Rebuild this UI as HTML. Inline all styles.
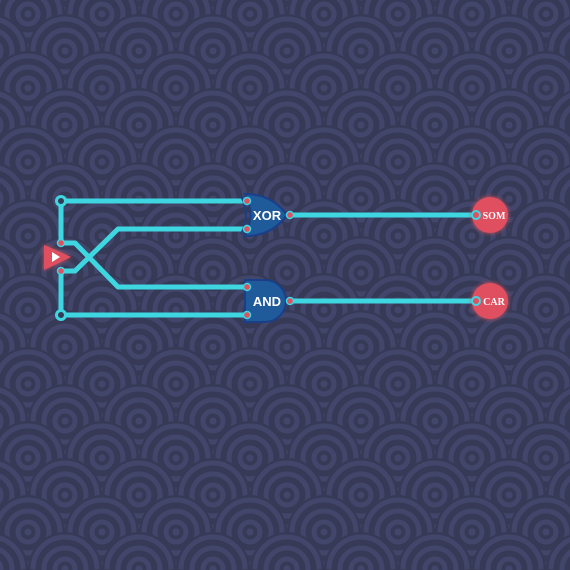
<!DOCTYPE html>
<html><head><meta charset="utf-8"><style>
html,body{margin:0;padding:0;background:#353a55;}
svg{display:block}
</style></head><body>
<svg width="570" height="570" viewBox="0 0 570 570">
<defs>
<g id="sc">
<circle r="37" fill="#363a56"/>
<circle r="3.5" fill="#41466a"/>
<g fill="none" stroke="#41466a" stroke-width="5">
<circle r="10"/><circle r="21"/><circle r="32"/>
</g>
</g>
<pattern id="waves" width="74" height="74" patternUnits="userSpaceOnUse">
<rect width="74" height="74" fill="#363a56"/>
<use href="#sc" x="-9" y="-23"/><use href="#sc" x="65" y="-23"/><use href="#sc" x="139" y="-23"/>
<use href="#sc" x="-46" y="14"/><use href="#sc" x="28" y="14"/><use href="#sc" x="102" y="14"/>
<use href="#sc" x="-9" y="51"/><use href="#sc" x="65" y="51"/><use href="#sc" x="139" y="51"/>
<use href="#sc" x="-46" y="88"/><use href="#sc" x="28" y="88"/><use href="#sc" x="102" y="88"/>
</pattern>
<filter id="glow" x="-50%" y="-50%" width="200%" height="200%"><feGaussianBlur stdDeviation="2.5" result="b"/><feMerge><feMergeNode in="b"/><feMergeNode in="SourceGraphic"/></feMerge></filter>
</defs>
<rect width="570" height="570" fill="url(#waves)"/>
<g stroke="#3ed6e0" stroke-width="5" fill="none" stroke-linejoin="round">
<polyline points="61,201 247,201"/>
<polyline points="61,201 61,243 75,243 118,287 247,287"/>
<polyline points="61,315 61,271 75,271 118,229 247,229"/>
<polyline points="61,315 247,315"/>
<polyline points="290,215 476,215"/>
<polyline points="290,301 476,301"/>
</g>
<circle cx="61" cy="201" r="4.5" fill="#353a55" stroke="#3ed6e0" stroke-width="3"/>
<circle cx="61" cy="315" r="4.5" fill="#353a55" stroke="#3ed6e0" stroke-width="3"/>
<g filter="url(#glow)">
<polygon points="44,245 71,257 44,270" fill="#e0505f"/>
<polygon points="52,252 60,257 52,262" fill="#fff"/>
</g>
<path d="M245,194 Q272,194 287,215 Q272,236 245,236 Q256,215 245,194Z" fill="#1f5a9a" stroke="#1a3f88" stroke-width="2"/>
<path d="M241,196 Q251,215 241,234" fill="none" stroke="#1a3f88" stroke-width="2"/>
<text x="267" y="220" fill="#fff" font-family="Liberation Sans, sans-serif" font-size="13" font-weight="bold" text-anchor="middle">XOR</text>
<path d="M245,280 L265,280 A21,21 0 0 1 265,322 L245,322Z" fill="#1f5a9a" stroke="#1a3f88" stroke-width="2"/>
<text x="267" y="306" fill="#fff" font-family="Liberation Sans, sans-serif" font-size="13" font-weight="bold" text-anchor="middle">AND</text>
<g fill="#e0505f" stroke="#3ed6e0" stroke-width="1.5">
<circle cx="61" cy="243" r="3.5"/><circle cx="61" cy="271" r="3.5"/>
<circle cx="247" cy="201" r="3.5"/><circle cx="247" cy="229" r="3.5"/>
<circle cx="247" cy="287" r="3.5"/><circle cx="247" cy="315" r="3.5"/>
<circle cx="290" cy="215" r="3.5"/><circle cx="290" cy="301" r="3.5"/>
</g>
<circle cx="490" cy="215" r="18" fill="#e0505f" filter="url(#glow)"/>
<circle cx="490" cy="301" r="18" fill="#e0505f" filter="url(#glow)"/>
<circle cx="476" cy="215" r="4" fill="#e0505f" stroke="#3ed6e0" stroke-width="2"/>
<circle cx="476" cy="301" r="4" fill="#e0505f" stroke="#3ed6e0" stroke-width="2"/>
<text x="494" y="219" fill="#fff" font-family="Liberation Serif, serif" font-size="10" font-weight="bold" text-anchor="middle">SOM</text>
<text x="494" y="305" fill="#fff" font-family="Liberation Serif, serif" font-size="10" font-weight="bold" text-anchor="middle">CAR</text>
</svg>
</body></html>
